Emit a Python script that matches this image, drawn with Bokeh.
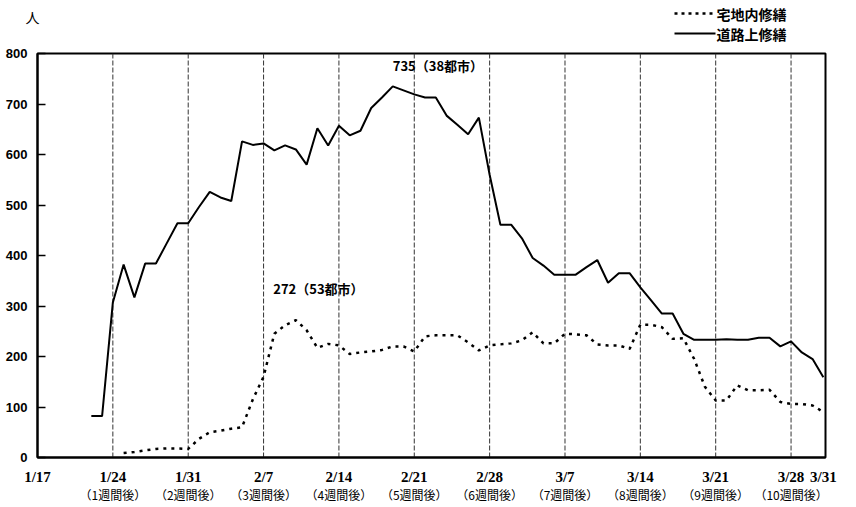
import pandas as pd
from bokeh.plotting import figure
from bokeh.layouts import column
from bokeh.models import Range1d, FixedTicker, LinearAxis, Label
from bokeh.core.properties import value
from bokeh.embed import file_html
from bokeh.resources import INLINE

start = pd.Timestamp("1995-01-17")

# 道路上修繕 (solid), daily from 1/22 to 3/31
road_start = "1995-01-22"
road_vals = [82, 82, 307, 382, 317, 384, 384, 424, 464, 464,
             496, 526, 515, 508, 626, 619, 622, 608, 618, 610,
             580, 652, 618, 657, 638, 647, 692, 713, 735, 727,
             719, 713, 713, 677, 659, 640, 673, 560,
             461, 461, 434, 395, 380, 362, 362, 362, 377, 391,
             346, 365, 365, 337, 311, 285, 285, 245, 233, 233,
             233, 234, 233, 233, 237, 237, 220, 230, 208, 195, 159]

# 宅地内修繕 (dotted), daily from 1/25 to 3/31
lot_start = "1995-01-25"
lot_vals = [9, 11, 14, 17, 18, 18, 17,
            37, 50, 53, 57, 60, 115, 160, 245, 262, 272,
            252, 217, 225, 222, 205, 208, 210, 213, 220, 220,
            210, 240, 242, 242, 242, 228, 212, 222,
            224, 226, 232, 248, 226, 226, 245, 244, 242, 224,
            222, 222, 215, 263, 263, 258, 235, 236, 195, 140,
            113, 113, 143, 133, 133, 134, 110, 106, 106, 103, 90]

tick_dates = ["1/17", "1/24", "1/31", "2/7", "2/14", "2/21", "2/28",
              "3/7", "3/14", "3/21", "3/28", "3/31"]
week_labels = ["（1週間後）", "（2週間後）", "（3週間後）", "（4週間後）",
               "（5週間後）", "（6週間後）", "（7週間後）", "（8週間後）",
               "（9週間後）", "（10週間後）"]
y_ticks = [0, 100, 200, 300, 400, 500, 600, 700, 800]

peak_road_label = "735（38都市）"
peak_lot_label = "272（53都市）"
series_names = ["宅地内修繕", "道路上修繕"]
unit_label = "人"

CJK = "Noto Sans CJK JP"


def day_of(md):
    m, d = md.split("/")
    return (pd.Timestamp(year=1995, month=int(m), day=int(d)) - start).days


road_days = [(d - start).days for d in pd.date_range(road_start, periods=len(road_vals))]
lot_days = [(d - start).days for d in pd.date_range(lot_start, periods=len(lot_vals))]
tick_days = [day_of(t) for t in tick_dates]
week_days = tick_days[1:-1]

# ---------- header: unit + legend ----------
HW, HH = 856, 45
header = figure(width=HW, height=HH, x_range=Range1d(0, HW), y_range=Range1d(HH, 0),
                output_backend="svg", toolbar_location=None,
                x_axis_location=None, y_axis_location=None,
                min_border=0, min_border_left=0, min_border_right=0,
                min_border_top=0, min_border_bottom=0)
header.frame_align = False
header.grid.visible = False
header.outline_line_color = None
header.background_fill_color = "white"
header.border_fill_color = "white"

header.text(x=[32], y=[16], text=[unit_label], text_align="center", text_baseline="middle",
            text_font=value(CJK), text_font_size="14px", text_color="black")
header.line(x=[674, 715], y=[13, 13], line_color="black", line_width=2.5, line_dash="3 4")
header.line(x=[674, 715], y=[33, 33], line_color="black", line_width=2)
header.text(x=[716, 716], y=[13, 33], text=series_names, text_align="left",
            text_baseline="middle", text_font=value(CJK), text_font_style="bold",
            text_font_size="14px", text_color="black")

# ---------- main chart ----------
p = figure(width=856, height=461, x_range=Range1d(0, 73.2), y_range=Range1d(0, 800),
           output_backend="svg", toolbar_location=None,
           min_border_left=37, min_border_right=31, min_border_top=8, min_border_bottom=49)
p.frame_align = False
p.grid.visible = False
p.outline_line_color = "black"
p.outline_line_width = 2
p.background_fill_color = "white"
p.border_fill_color = "white"

# weekly vertical lines
p.segment(x0=week_days, y0=[0] * len(week_days), x1=week_days, y1=[800] * len(week_days),
          line_color="#333333", line_width=1, line_dash="5 2")

p.line(lot_days, lot_vals, line_color="black", line_width=2.5, line_dash="3 5")
p.line(road_days, road_vals, line_color="black", line_width=2)

# y axis
ya = p.yaxis[0]
ya.ticker = FixedTicker(ticks=y_ticks)
ya.major_tick_in = 8
ya.major_tick_out = 0
ya.minor_tick_in = 0
ya.minor_tick_out = 0
ya.axis_line_width = 2
ya.major_tick_line_width = 1.5
ya.major_label_standoff = 10
ya.major_label_text_font = "Liberation Sans"
ya.major_label_text_font_style = "bold"
ya.major_label_text_font_size = "13px"
ya.major_label_text_color = "black"

# x axis (dates)
xa = p.xaxis[0]
xa.ticker = FixedTicker(ticks=tick_days)
xa.major_label_overrides = {d: t for d, t in zip(tick_days, tick_dates)}
xa.major_tick_in = 0
xa.major_tick_out = 0
xa.minor_tick_in = 0
xa.minor_tick_out = 0
xa.axis_line_width = 2
xa.major_label_standoff = 11
xa.major_label_text_font = "Liberation Serif"
xa.major_label_text_font_style = "bold"
xa.major_label_text_font_size = "15px"
xa.major_label_text_color = "black"

# second x axis (weeks after)
xa2 = LinearAxis(ticker=FixedTicker(ticks=week_days),
                 major_label_overrides={d: t for d, t in zip(week_days, week_labels)})
xa2.axis_line_alpha = 0
xa2.major_tick_in = 0
xa2.major_tick_out = 0
xa2.minor_tick_in = 0
xa2.minor_tick_out = 0
xa2.major_label_standoff = -2
xa2.major_label_text_font = CJK
xa2.major_label_text_font_size = "12px"
xa2.major_label_text_color = "black"
p.add_layout(xa2, "below")

# peak annotations
road_peak = max(road_vals)
road_peak_day = road_days[road_vals.index(road_peak)]
lot_peak = max(lot_vals)
lot_peak_day = lot_days[lot_vals.index(lot_peak)]

p.add_layout(Label(x=road_peak_day, y=776, text=peak_road_label, text_align="left",
                   text_baseline="middle", text_font=CJK,
                   text_font_style="bold", text_font_size="13px", text_color="black"))
p.add_layout(Label(x=lot_peak_day - 2.1, y=335, text=peak_lot_label, text_align="left",
                   text_baseline="middle", text_font=CJK,
                   text_font_style="bold", text_font_size="13px", text_color="black"))

layout = column(header, p, spacing=0)
open("out.html", "w").write(file_html(layout, INLINE))
